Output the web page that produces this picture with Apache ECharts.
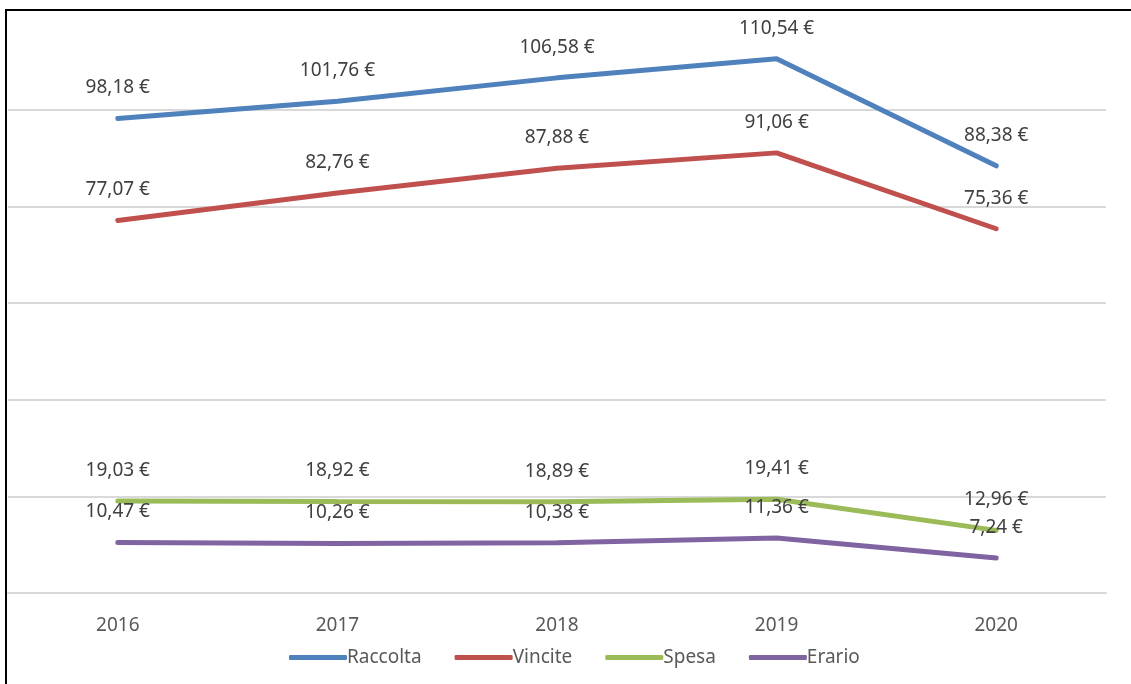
<!DOCTYPE html>
<html>
<head>
<meta charset="utf-8">
<script src="https://cdn.jsdelivr.net/npm/echarts@6/dist/echarts.min.js"></script>
<style>
  html, body { margin: 0; padding: 0; background: #fff; }
  #main { width: 1131px; height: 684px; }
</style>
</head>
<body>
<div id="main"></div>
<script>
var anni = ["2016", "2017", "2018", "2019", "2020"];
var raccolta = [98.18, 101.76, 106.58, 110.54, 88.38];
var vincite = [77.07, 82.76, 87.88, 91.06, 75.36];
var spesa = [19.03, 18.92, 18.89, 19.41, 12.96];
var erario = [10.47, 10.26, 10.38, 11.36, 7.24];

var chartDom = document.getElementById("main");
var myChart = echarts.init(chartDom);
var font = "'Liberation Sans Narrow', 'Noto Sans', sans-serif";

function euro(p) {
  return p.value.toFixed(2).replace(".", ",") + " €";
}

function serie(nome, dati, colore) {
  return {
    name: nome,
    type: "line",
    data: dati,
    symbol: "circle",
    symbolSize: 0,
    lineStyle: { width: 5, color: colore, cap: "round" },
    itemStyle: { color: colore },
    label: {
      show: true,
      position: "top",
      distance: 21,
      formatter: euro,
      color: "#404040",
      fontSize: 19,
      fontFamily: font
    }
  };
}

var option = {
  animation: false,
  grid: { left: 8, right: 25, top: 13, bottom: 91 },
  graphic: [
    {
      type: "rect",
      shape: { x: 6, y: 10, width: 1140, height: 700 },
      style: { fill: "none", stroke: "#000", lineWidth: 2 },
      z: 100
    }
  ],
  legend: {
    left: 284,
    top: 643,
    itemWidth: 58,
    itemHeight: 5,
    itemGap: 33,
    icon: "roundRect",
    textStyle: { color: "#595959", fontSize: 19, fontFamily: font, padding: [0, 0, 0, -5] },
    data: ["Raccolta", "Vincite", "Spesa", "Erario"]
  },
  xAxis: {
    type: "category",
    data: anni,
    boundaryGap: true,
    axisLine: { lineStyle: { color: "#d9d9d9", width: 2 } },
    axisTick: { show: false },
    axisLabel: { color: "#595959", fontSize: 19, fontFamily: font, margin: 23 }
  },
  yAxis: {
    type: "value",
    min: 0,
    max: 120,
    interval: 20,
    axisLabel: { show: false },
    axisLine: { show: false },
    axisTick: { show: false },
    splitLine: {
      lineStyle: {
        color: ["#d9d9d9", "#d9d9d9", "#d9d9d9", "#d9d9d9", "#d9d9d9", "#d9d9d9", "rgba(0,0,0,0)"],
        width: 2
      }
    }
  },
  series: [
    serie("Raccolta", raccolta, "#4f81bd"),
    serie("Vincite", vincite, "#c0504d"),
    serie("Spesa", spesa, "#9bbb59"),
    serie("Erario", erario, "#8064a2")
  ]
};

myChart.setOption(option);
</script>
</body>
</html>
